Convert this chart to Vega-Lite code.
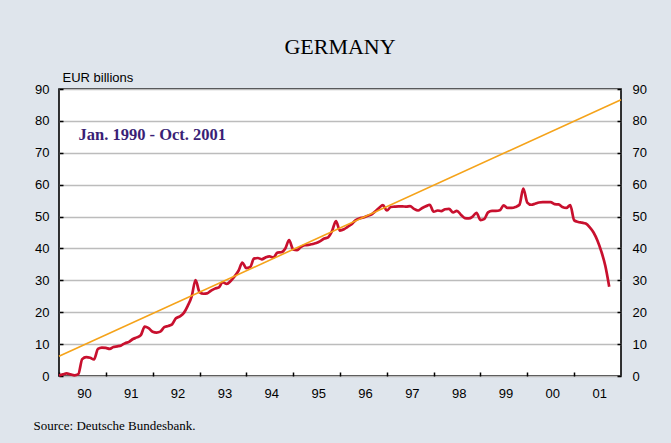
{
  "$schema": "https://vega.github.io/schema/vega-lite/v6.json",
  "width": 562,
  "height": 287,
  "autosize": {"type": "none"},
  "padding": {"left": 59, "top": 89, "right": 50, "bottom": 67},
  "background": "#dfe5ec",
  "title": {"text": "GERMANY", "font": "Liberation Serif", "fontSize": 22, "fontWeight": "normal", "color": "#000", "anchor": "middle", "offset": 12},
  "data": {"values": [
    {"date": "1990-01-01", "value": 0.2}, {"date": "1990-02-01", "value": 0.5}, {"date": "1990-03-01", "value": 0.8}, {"date": "1990-04-01", "value": 0.5},
    {"date": "1990-05-01", "value": 0.2}, {"date": "1990-06-01", "value": 0.6}, {"date": "1990-07-01", "value": 5.3}, {"date": "1990-08-01", "value": 5.9},
    {"date": "1990-09-01", "value": 5.7}, {"date": "1990-10-01", "value": 5.2}, {"date": "1990-11-01", "value": 8.5}, {"date": "1990-12-01", "value": 8.9},
    {"date": "1991-01-01", "value": 8.8}, {"date": "1991-02-01", "value": 8.5}, {"date": "1991-03-01", "value": 9.1}, {"date": "1991-04-01", "value": 9.3},
    {"date": "1991-05-01", "value": 9.6}, {"date": "1991-06-01", "value": 10.3}, {"date": "1991-07-01", "value": 10.7}, {"date": "1991-08-01", "value": 11.6},
    {"date": "1991-09-01", "value": 12.1}, {"date": "1991-10-01", "value": 12.8}, {"date": "1991-11-01", "value": 15.5}, {"date": "1991-12-01", "value": 15.0},
    {"date": "1992-01-01", "value": 13.9}, {"date": "1992-02-01", "value": 13.6}, {"date": "1992-03-01", "value": 13.9}, {"date": "1992-04-01", "value": 15.3},
    {"date": "1992-05-01", "value": 15.7}, {"date": "1992-06-01", "value": 16.2}, {"date": "1992-07-01", "value": 18.1}, {"date": "1992-08-01", "value": 18.7},
    {"date": "1992-09-01", "value": 19.8}, {"date": "1992-10-01", "value": 22.0}, {"date": "1992-11-01", "value": 25.0}, {"date": "1992-12-01", "value": 30.1},
    {"date": "1993-01-01", "value": 26.3}, {"date": "1993-02-01", "value": 25.8}, {"date": "1993-03-01", "value": 25.9}, {"date": "1993-04-01", "value": 26.8},
    {"date": "1993-05-01", "value": 27.4}, {"date": "1993-06-01", "value": 27.8}, {"date": "1993-07-01", "value": 29.4}, {"date": "1993-08-01", "value": 28.9},
    {"date": "1993-09-01", "value": 29.8}, {"date": "1993-10-01", "value": 31.2}, {"date": "1993-11-01", "value": 33.0}, {"date": "1993-12-01", "value": 35.6},
    {"date": "1994-01-01", "value": 33.8}, {"date": "1994-02-01", "value": 34.2}, {"date": "1994-03-01", "value": 36.8}, {"date": "1994-04-01", "value": 37.0},
    {"date": "1994-05-01", "value": 36.6}, {"date": "1994-06-01", "value": 37.2}, {"date": "1994-07-01", "value": 37.5}, {"date": "1994-08-01", "value": 37.2},
    {"date": "1994-09-01", "value": 38.7}, {"date": "1994-10-01", "value": 38.8}, {"date": "1994-11-01", "value": 40.0}, {"date": "1994-12-01", "value": 42.6},
    {"date": "1995-01-01", "value": 39.7}, {"date": "1995-02-01", "value": 39.5}, {"date": "1995-03-01", "value": 40.4}, {"date": "1995-04-01", "value": 41.0},
    {"date": "1995-05-01", "value": 41.1}, {"date": "1995-06-01", "value": 41.4}, {"date": "1995-07-01", "value": 41.7}, {"date": "1995-08-01", "value": 42.3},
    {"date": "1995-09-01", "value": 43.1}, {"date": "1995-10-01", "value": 43.5}, {"date": "1995-11-01", "value": 45.5}, {"date": "1995-12-01", "value": 48.6},
    {"date": "1996-01-01", "value": 45.6}, {"date": "1996-02-01", "value": 46.0}, {"date": "1996-03-01", "value": 46.8}, {"date": "1996-04-01", "value": 47.6},
    {"date": "1996-05-01", "value": 48.8}, {"date": "1996-06-01", "value": 49.4}, {"date": "1996-07-01", "value": 49.7}, {"date": "1996-08-01", "value": 50.2},
    {"date": "1996-09-01", "value": 50.6}, {"date": "1996-10-01", "value": 51.6}, {"date": "1996-11-01", "value": 52.7}, {"date": "1996-12-01", "value": 53.6},
    {"date": "1997-01-01", "value": 51.9}, {"date": "1997-02-01", "value": 53.0}, {"date": "1997-03-01", "value": 53.1}, {"date": "1997-04-01", "value": 53.2},
    {"date": "1997-05-01", "value": 53.2}, {"date": "1997-06-01", "value": 53.1}, {"date": "1997-07-01", "value": 53.3}, {"date": "1997-08-01", "value": 52.4},
    {"date": "1997-09-01", "value": 51.9}, {"date": "1997-10-01", "value": 52.6}, {"date": "1997-11-01", "value": 53.2}, {"date": "1997-12-01", "value": 53.7},
    {"date": "1998-01-01", "value": 51.5}, {"date": "1998-02-01", "value": 51.9}, {"date": "1998-03-01", "value": 51.7}, {"date": "1998-04-01", "value": 52.3},
    {"date": "1998-05-01", "value": 52.4}, {"date": "1998-06-01", "value": 51.3}, {"date": "1998-07-01", "value": 51.8}, {"date": "1998-08-01", "value": 50.6},
    {"date": "1998-09-01", "value": 49.5}, {"date": "1998-10-01", "value": 49.4}, {"date": "1998-11-01", "value": 50.0}, {"date": "1998-12-01", "value": 51.2},
    {"date": "1999-01-01", "value": 48.9}, {"date": "1999-02-01", "value": 49.3}, {"date": "1999-03-01", "value": 51.3}, {"date": "1999-04-01", "value": 51.8},
    {"date": "1999-05-01", "value": 51.8}, {"date": "1999-06-01", "value": 52.0}, {"date": "1999-07-01", "value": 53.5}, {"date": "1999-08-01", "value": 52.7},
    {"date": "1999-09-01", "value": 52.7}, {"date": "1999-10-01", "value": 53.0}, {"date": "1999-11-01", "value": 53.7}, {"date": "1999-12-01", "value": 58.8},
    {"date": "2000-01-01", "value": 54.4}, {"date": "2000-02-01", "value": 53.7}, {"date": "2000-03-01", "value": 54.0}, {"date": "2000-04-01", "value": 54.4},
    {"date": "2000-05-01", "value": 54.5}, {"date": "2000-06-01", "value": 54.5}, {"date": "2000-07-01", "value": 54.5}, {"date": "2000-08-01", "value": 53.9},
    {"date": "2000-09-01", "value": 53.8}, {"date": "2000-10-01", "value": 53.0}, {"date": "2000-11-01", "value": 52.7}, {"date": "2000-12-01", "value": 53.6},
    {"date": "2001-01-01", "value": 48.8}, {"date": "2001-02-01", "value": 48.3}, {"date": "2001-03-01", "value": 48.1}, {"date": "2001-04-01", "value": 47.8},
    {"date": "2001-05-01", "value": 46.7}, {"date": "2001-06-01", "value": 45.0}, {"date": "2001-07-01", "value": 42.5}, {"date": "2001-08-01", "value": 39.0},
    {"date": "2001-09-01", "value": 34.5}, {"date": "2001-10-01", "value": 28.0}
  ]},
  "encoding": {
    "x": {
      "field": "date", "type": "temporal",
      "scale": {"type": "utc", "domain": [{"year": 1990, "month": 1, "date": 1, "utc": true}, {"year": 2002, "month": 1, "date": 1, "utc": true}]},
      "axis": {
        "values": [
          {"year": 1990, "month": 1, "date": 1, "utc": true}, {"year": 1991, "month": 1, "date": 1, "utc": true},
          {"year": 1992, "month": 1, "date": 1, "utc": true}, {"year": 1993, "month": 1, "date": 1, "utc": true},
          {"year": 1994, "month": 1, "date": 1, "utc": true}, {"year": 1995, "month": 1, "date": 1, "utc": true},
          {"year": 1996, "month": 1, "date": 1, "utc": true}, {"year": 1997, "month": 1, "date": 1, "utc": true},
          {"year": 1998, "month": 1, "date": 1, "utc": true}, {"year": 1999, "month": 1, "date": 1, "utc": true},
          {"year": 2000, "month": 1, "date": 1, "utc": true}, {"year": 2001, "month": 1, "date": 1, "utc": true}
        ],
        "format": "%y",
        "labelOffset": 25,
        "labelFlush": false,
        "labelPadding": 15,
        "labelBaseline": "top",
        "grid": false,
        "title": "Source: Deutsche Bundesbank.",
        "titleFont": "Liberation Serif",
        "titleFontSize": 13,
        "titleFontWeight": "normal",
        "titleColor": "#000",
        "titleAlign": "left",
        "titleBaseline": "middle",
        "titleX": -26,
        "titleY": 49
      }
    }
  },
  "layer": [
    {
      "mark": {"type": "line", "color": "#c8102e", "strokeWidth": 2.7, "interpolate": "monotone"},
      "encoding": {
        "y": {
          "field": "value", "type": "quantitative",
          "scale": {"domain": [0, 90], "nice": false, "zero": true},
          "axis": {
            "orient": "left",
            "values": [0, 10, 20, 30, 40, 50, 60, 70, 80, 90],
            "grid": true,
            "title": "EUR billions",
            "titleAngle": 0,
            "titleAlign": "left",
            "titleBaseline": "bottom",
            "titleX": 3,
            "titleY": -5,
            "titleFont": "Liberation Sans",
            "titleFontSize": 13,
            "titleFontWeight": "normal",
            "titleColor": "#000",
            "labelPadding": 14
          }
        }
      }
    },
    {
      "data": {"values": [
        {"date": "1990-01-01", "value": 6.2},
        {"date": "2002-01-01", "value": 86.6}
      ]},
      "mark": {"type": "line", "color": "#f5a31a", "strokeWidth": 1.6},
      "encoding": {
        "y": {
          "field": "value", "type": "quantitative",
          "axis": {
            "orient": "right",
            "values": [0, 10, 20, 30, 40, 50, 60, 70, 80, 90],
            "grid": false,
            "title": null,
            "labelPadding": 15
          }
        }
      }
    },
    {
      "data": {"values": [{"date": "1990-06-02", "value": 75.5, "label": "Jan. 1990 - Oct. 2001"}]},
      "mark": {"type": "text", "font": "Liberation Serif", "fontSize": 16.5, "fontWeight": "bold", "fill": "#3a1f76", "align": "left", "baseline": "middle"},
      "encoding": {
        "text": {"field": "label", "type": "nominal"},
        "y": {"field": "value", "type": "quantitative", "axis": null}
      }
    }
  ],
  "resolve": {"axis": {"y": "independent"}},
  "config": {
    "view": {"stroke": "#000", "strokeWidth": 1.6, "fill": "#ffffff"},
    "axis": {
      "labelFont": "Liberation Sans",
      "labelFontSize": 13,
      "labelColor": "#000",
      "domain": false,
      "ticks": true,
      "tickColor": "#000",
      "tickWidth": 1.5,
      "tickSize": -4,
      "gridColor": "#bcbcbc",
      "gridWidth": 1.5,
      "gridOpacity": 1
    }
  }
}
